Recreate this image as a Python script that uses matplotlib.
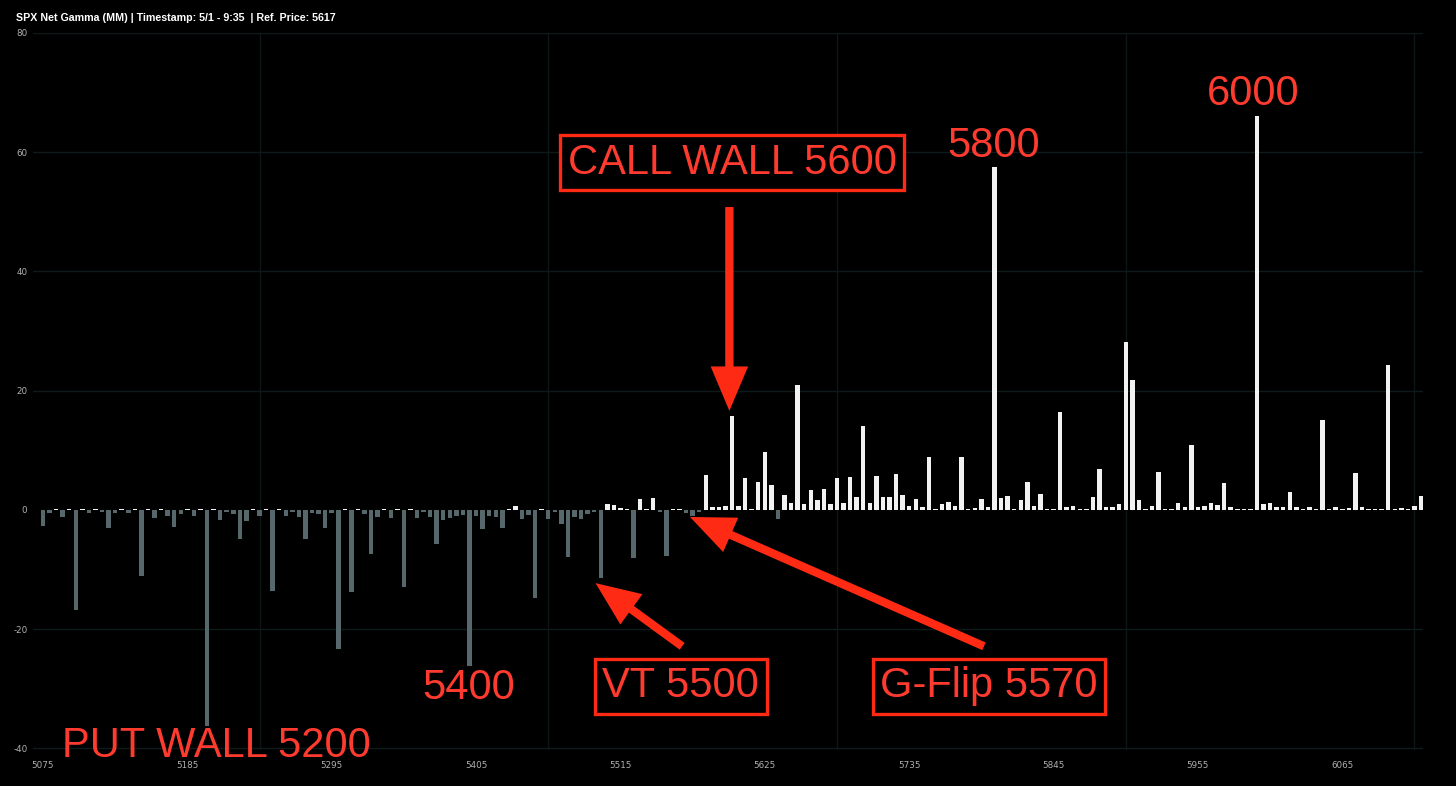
import numpy as np
import matplotlib
matplotlib.use("Agg")
import matplotlib.pyplot as plt

# ---------------- data ----------------
title = "SPX Net Gamma (MM) | Timestamp: 5/1 - 9:35  | Ref. Price: 5617"
strikes = np.arange(5075, 6130, 5)
net_gamma = [
    -2.7, -0.55, 0.15, -1.2, 0.15, -16.8, 0.15, -0.6, 0.15, -0.3,
    -3.0, -0.5, 0.15, -0.5, 0.15, -11.1, 0.15, -1.3, 0.15, -1.0,
    -2.9, -0.7, 0.15, -1.0, 0.15, -36.2, 0.15, -1.7, -0.3, -0.7,
    -4.9, -1.9, 0.15, -1.0, 0.15, -13.7, 0.15, -1.0, -0.4, -1.2,
    -4.9, -0.5, -0.7, -3.0, -0.5, -23.4, 0.15, -13.8, 0.15, -0.7,
    -7.4, -1.2, 0.15, -1.4, 0.15, -13.0, 0.15, -1.3, -0.3, -1.2,
    -5.8, -1.7, -1.3, -1.0, -0.8, -26.2, -1.0, -3.2, -1.0, -1.2,
    -3.1, 0.15, 0.6, -1.6, -0.9, -14.8, 0.15, -1.5, -0.4, -2.3,
    -7.9, -1.2, -1.5, -0.7, -0.4, -11.4, 0.95, 0.8, 0.3, 0.15,
    -8.1, 1.85, 0.15, 2.0, -0.45, -7.8, 0.2, 0.15, -0.5, -1.0,
    -0.4, 5.9, 0.5, 0.5, 0.7, 15.8, 0.7, 5.4, 0.15, 4.7,
    9.7, 4.2, -1.6, 2.5, 1.2, 20.9, 0.95, 3.3, 1.6, 3.5,
    1.0, 5.4, 1.1, 5.5, 2.1, 14.1, 1.2, 5.6, 2.1, 2.1,
    6.0, 2.5, 0.7, 1.8, 0.5, 8.8, 0.15, 1.0, 1.3, 0.7,
    8.8, 0.15, 0.35, 1.8, 0.5, 57.5, 1.9, 2.35, 0.15, 1.6,
    4.6, 0.7, 2.6, 0.15, 0.15, 16.4, 0.4, 0.7, 0.2, 0.15,
    2.2, 6.9, 0.4, 0.5, 1.0, 28.1, 21.8, 1.6, 0.2, 0.7,
    6.4, 0.15, 0.2, 1.2, 0.4, 10.9, 0.4, 0.7, 1.2, 0.8,
    4.5, 0.5, 0.15, 0.1, 0.2, 66.0, 1.0, 1.1, 0.5, 0.5,
    3.0, 0.5, 0.1, 0.45, 0.15, 15.1, 0.15, 0.45, 0.15, 0.35,
    6.2, 0.45, 0.1, 0.2, 0.1, 24.3, 0.2, 0.3, 0.1, 0.7,
    2.4,
]
x_ticks = [5075, 5185, 5295, 5405, 5515, 5625, 5735, 5845, 5955, 6065]
x_grid = [5240, 5460, 5680, 5900, 6120]
y_ticks = [-40, -20, 0, 20, 40, 60, 80]

# annotations: (text, x, y, boxed)
labels = [
    ("CALL WALL 5600", 5600, 58.2, True),
    ("5800", 5799, 61.0, False),
    ("6000", 5997, 69.8, False),
    ("5400", 5399, -29.9, False),
    ("PUT WALL 5200", 5207, -39.6, False),
    ("VT 5500", 5561, -29.6, True),
    ("G-Flip 5570", 5796, -29.6, True),
]
# arrows: (tail_x, tail_y, tip_x, tip_y)
arrows = [
    (5598, 50.8, 5598, 16.6),
    (5562, -22.9, 5496, -12.3),
    (5792, -22.9, 5568, -1.2),
]

# ---------------- drawing ----------------
W, H, DPI = 1456, 786, 100
fig = plt.figure(figsize=(W / DPI, H / DPI), dpi=DPI, facecolor="black")
ax = fig.add_axes([33 / W, 1 - 750 / H, (1423 - 33) / W, (750 - 33) / H])
ax.set_facecolor("black")

vals = np.array(net_gamma)
colors = np.where(vals < 0, "#56686c", "#f2f2f2")
ax.bar(strikes, vals, width=3.4, color=colors, linewidth=0, zorder=3)

ax.set_xlim(5067.4, 6126.5)
ax.set_ylim(-40.3, 80)

for g in y_ticks:
    if g != 0:
        ax.axhline(g, color="#0f1a1b", lw=1.0, zorder=1)
for g in x_grid:
    ax.axvline(g, color="#0d1718", lw=1.0, zorder=1)

ax.set_xticks(x_ticks)
ax.set_xticklabels([str(t) for t in x_ticks])
ax.set_yticks(y_ticks)
ax.set_yticklabels([str(t) for t in y_ticks])
ax.tick_params(axis="both", length=0, colors="#b0b0b0", labelsize=6.3, pad=4)
ax.tick_params(axis="x", pad=8)
for s in ax.spines.values():
    s.set_visible(False)

fig.text(16 / W, 1 - 18 / H, title, color="white", fontsize=7.7, fontweight="bold",
         family="Liberation Sans", va="center", ha="left")

red = "#ff3b2f"
for txt, x, y, boxed in labels:
    kw = {}
    if boxed:
        kw["bbox"] = dict(boxstyle="square,pad=0.18", facecolor="black",
                          edgecolor="#ff2a14", linewidth=2.4)
    ax.text(x, y, txt, color=red, fontsize=30, family="Liberation Sans",
            ha="center", va="center", zorder=6, **kw)

for tx, ty, hx, hy in arrows:
    ax.annotate("", xy=(hx, hy), xytext=(tx, ty),
                arrowprops=dict(arrowstyle="simple,head_length=3.2,head_width=2.7,tail_width=0.6",
                                color="#ff2a14", lw=0, shrinkA=0, shrinkB=0,
                                mutation_scale=10),
                zorder=7)

fig.savefig("out.png", dpi=DPI, facecolor="black")
